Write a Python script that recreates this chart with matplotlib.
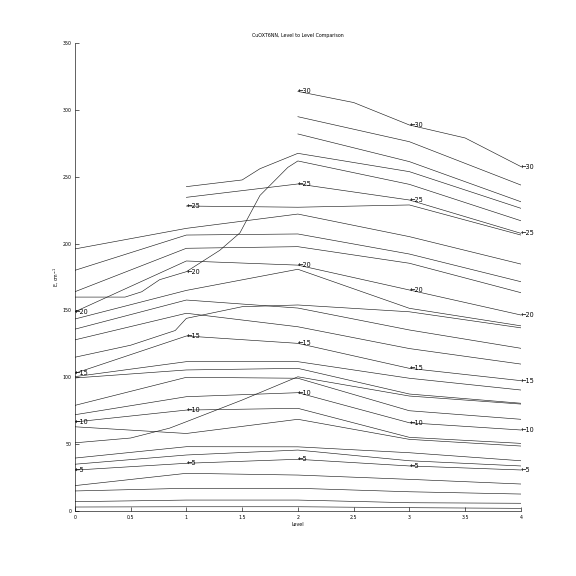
import matplotlib
matplotlib.use("Agg")
import matplotlib.pyplot as plt
import numpy as np

nan = np.nan

# state energies read at each level (nan = state not present yet)
levels = [0, 1, 2, 3, 4]
curves = [
    [3, 3.2, 3.2, 2.5, 2],
    [7, 8.2, 8.2, 6.2, 5.8],
    [15, 17, 17, 14.4, 12.7],
    [19, 28.2, 26.9, 23.7, 20.2],
    [30.6, 35.7, 38.7, 33.7, 30.7],
    [35, 41.9, 45.6, 37.6, 33.7],
    [39.6, 48.1, 48, 43.6, 37.6],
    [63, 58, 68.6, 53.6, 48.6],
    [66.6, 75.5, 76.8, 55.1, 50.6],
    [72, 85.5, 88.5, 66, 60.6],
    [79, 100, 99.3, 75, 68.6],
    [99.5, 105.5, 106.7, 87.5, 80.6],
    [100.5, 111.7, 111.7, 99.3, 90.5],
    [103, 130.9, 125.4, 106.7, 97.5],
    [128, 147.9, 137.8, 121.5, 109.9],
    [136, 157.8, 151.8, 135.4, 121.7],
    [143.6, 165, 180.8, 151.6, 138.5],
    [149, 187, 183.9, 165.3, 146.6],
    [164, 196.5, 197.7, 185.3, 163.3],
    [180, 206.4, 207.2, 192.2, 171.5],
    [196, 211.4, 222.1, 205.2, 184.7],
    [nan, 228.1, 227.2, 228.9, 206.4],
    [nan, 234.6, 244.6, 232.6, 207.7],
    [nan, nan, 282, 261.3, 231.3],
    [nan, nan, 294.9, 276.2, 243.8],
]

# curves that cross others or bend a lot, read at more points
rise_x = [0, 0.5, 0.85, 1, 1.5, 2, 3, 4]
rise_y = [51, 54.6, 62, 66.8, 83, 100.4, 86, 80]
kink_x = [0, 0.5, 0.9, 1, 1.5, 2, 3, 4]
kink_y = [115, 124, 135, 144.1, 152.8, 154.1, 149, 137]
steep_x = [0, 0.45, 0.6, 0.76, 1, 1.3, 1.48, 1.66, 1.91, 2, 3, 4]
steep_y = [160, 160, 164, 173, 179, 195, 208, 236, 257, 261.8, 244.3, 217.1]
hump_x = [1, 1.5, 1.66, 2, 3, 4]
hump_y = [242.6, 247.6, 256, 267.5, 253.8, 226.4]
top_x = [2, 2.5, 3, 3.5, 4]
top_y = [313.8, 305.5, 288.7, 279, 257.6]

extra = [(rise_x, rise_y), (kink_x, kink_y), (steep_x, steep_y),
         (hump_x, hump_y), (top_x, top_y)]

fig = plt.figure(figsize=(8, 8), dpi=72)
ax = fig.add_axes([0.13, 0.1128, 0.7743, 0.8125])

lc = "#1a1a1a"
for row in curves:
    ax.plot(levels, row, color=lc, lw=0.6)
for xs, ys in extra:
    ax.plot(xs, ys, color=lc, lw=0.6)

# every 5th state at each level gets a label
for i, lv in enumerate(levels):
    vals = [r[i] for r in curves if not np.isnan(r[i])]
    for xs, ys in extra:
        if lv in xs:
            vals.append(ys[xs.index(lv)])
    vals = sorted(vals)
    for n in range(5, len(vals) + 1, 5):
        ax.text(lv, vals[n - 1], "\u2190" + str(n), fontsize=6.5,
                ha="left", va="center")

ax.set_xlim(0, 4)
ax.set_ylim(0, 350)
ax.set_xticks(np.arange(0, 4.01, 0.5))
ax.set_xticklabels(["0", "0.5", "1", "1.5", "2", "2.5", "3", "3.5", "4"])
ax.set_yticks(np.arange(0, 351, 50))
ax.tick_params(direction="in", labelsize=4.8, length=4, width=0.6)
for s in ["top", "right"]:
    ax.spines[s].set_visible(False)
for s in ["left", "bottom"]:
    ax.spines[s].set_linewidth(0.6)

ax.set_xlabel("Level", fontsize=4.8, labelpad=2)
ax.set_ylabel("E, cm$^{-1}$", fontsize=4.8, labelpad=2)
ax.set_title("CuOXT6NN, Level to Level Comparison", fontsize=4.8, pad=6)

fig.savefig("out.png", dpi=72)
